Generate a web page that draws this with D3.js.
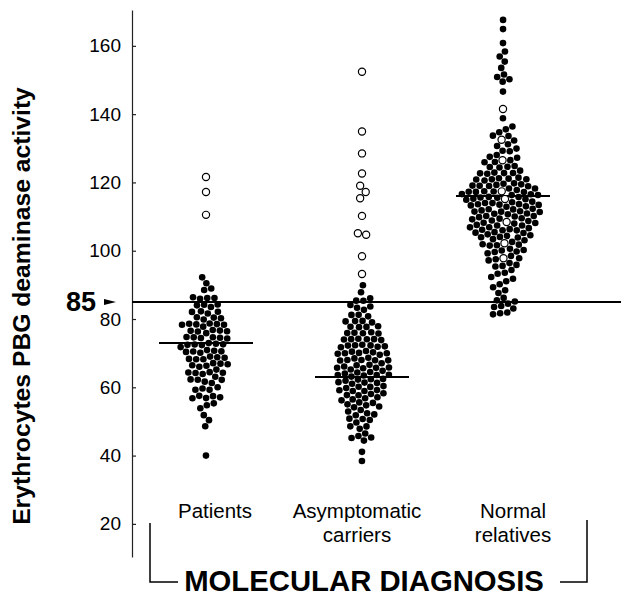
<!DOCTYPE html>
<html>
<head>
<meta charset="utf-8">
<script src="https://cdn.jsdelivr.net/npm/d3@7"></script>
<style>
  body { margin: 0; background: #fff; }
  svg { display: block; font-family: "Liberation Sans", Arial, sans-serif; }
</style>
</head>
<body>
<div id="chart"></div>
<script>
// Data
const categories = ["Patients", "Asymptomatic carriers", "Normal relatives"];
const categoryLines = [["Patients"], ["Asymptomatic", "carriers"], ["Normal", "relatives"]];
const groupMeans = [73, 63, 116];
const cutoff = 85;
const yTicks = [20, 40, 60, 80, 100, 120, 140, 160];

const patientsFilled = [
  92.1, 90.5, 89.0, 88.5,
  86.3, 86.0, 86.1, 85.8,
  83.8, 84.1, 83.6, 84.3,
  81.7, 81.9, 81.4, 82.2,
  80.0, 79.8, 80.3, 79.6,
  78.2, 78.4, 77.9, 78.6, 78.0, 78.3, 77.7,
  76.4, 76.6, 76.2, 76.8, 76.0, 76.5,
  74.7, 74.9, 74.4, 75.0, 74.6, 74.2,
  72.7, 72.4, 73.0, 72.2, 72.9, 72.5, 71.9,
  70.6, 70.2, 70.9, 70.4, 69.8, 70.7,
  68.6, 68.2, 68.9, 68.4, 67.9, 68.7, 68.1,
  67.1, 66.8, 66.4, 66.0, 66.6, 65.8,
  64.6, 64.2, 63.9, 64.4, 63.7, 64.0,
  62.7, 62.4, 61.9, 61.5, 62.2,
  60.2, 59.5, 59.8, 59.3,
  57.1, 57.4, 56.8, 57.3, 56.9,
  55.3, 55.0, 53.9, 51.8, 50.4, 48.6, 40.0
];
const patientsOpen = [121.6, 117.2, 110.5];

const carriersFilled = [
  89.8, 87.9, 86.0, 85.4, 84.9, 84.1, 83.6, 83.2, 82.8,
  81.2, 80.9, 80.5, 79.4, 79.1, 78.8, 78.5,
  77.5, 77.2, 76.9, 77.8, 75.9, 76.1, 75.6, 75.3, 76.3,
  74.2, 73.9, 73.6, 74.4, 73.8, 74.0,
  72.3, 71.9, 71.5, 72.1, 71.3, 71.7, 72.5,
  70.3, 69.9, 69.4, 70.1, 69.6, 70.5, 69.2, 69.8,
  68.3, 67.9, 67.7, 68.1, 67.5, 68.5, 67.3, 68.0,
  66.2, 65.9, 65.6, 66.4, 65.3, 66.0, 65.8, 66.6, 65.1,
  64.3, 63.9, 63.6, 64.1, 63.4, 64.5, 63.8, 64.7,
  62.3, 61.9, 61.6, 62.1, 61.3, 62.5, 61.8, 62.7,
  60.2, 59.8, 59.5, 60.4, 59.9, 60.6, 59.3,
  58.3, 57.9, 57.3, 58.1, 57.6, 57.0, 58.5,
  56.3, 55.9, 55.2, 54.8, 56.1, 55.5, 54.6,
  53.6, 53.9, 53.2, 52.0, 52.3, 51.7,
  51.0, 50.4, 50.7, 49.9,
  48.7, 48.4, 47.5, 46.6, 46.2, 45.2, 45.4, 44.5, 41.1, 38.4
];
const carriersOpen = [152.4, 134.9, 128.5, 122.6, 118.7, 117.2, 115.7, 110.2, 105.0, 104.8, 98.4, 93.2];

const normalFilled = [
  167.6, 164.9, 160.8, 158.3, 156.9, 155.4, 153.5, 151.5, 150.9, 150.3, 149.6, 146.6,
  138.8, 136.3, 135.5, 134.6, 133.8, 133.3, 132.4, 131.2, 130.8, 129.8, 129.4, 129.0,
  127.9, 127.5, 127.1, 126.2, 125.8, 125.4,
  124.6, 124.2, 123.8, 123.4,
  122.8, 122.4, 122.0, 121.6, 121.2, 122.6,
  120.8, 120.5, 120.2, 119.9, 119.6, 119.3, 120.6, 120.0, 119.4,
  118.9, 118.6, 118.3, 118.0, 117.7, 117.4, 117.1, 118.8, 118.2, 117.6, 117.3,
  116.9, 116.6, 116.3, 116.0, 115.7, 115.4, 115.1, 116.8, 116.2, 115.9, 115.5, 115.2,
  114.9, 114.6, 114.3, 114.0, 113.7, 113.4, 113.1, 114.8, 114.2, 113.8, 113.5, 113.2,
  112.9, 112.6, 112.3, 112.0, 111.7, 111.4, 111.1, 112.7, 112.2, 111.8, 111.3,
  110.9, 110.5, 110.1, 109.7, 109.3, 110.7, 110.3, 109.9, 109.5, 109.1,
  108.8, 108.4, 108.0, 107.6, 107.2, 108.6, 108.2, 107.8, 107.4,
  106.8, 106.4, 106.0, 105.6, 105.2, 106.6, 106.2, 105.4,
  104.8, 104.4, 104.0, 103.6, 103.2, 104.2, 103.8,
  102.8, 102.2, 101.6, 101.2, 102.4, 101.8,
  100.8, 100.2, 99.6, 99.2, 100.5,
  98.8, 97.9, 97.3, 98.2,
  96.6, 95.9, 95.4, 96.2,
  94.5, 93.8, 93.2,
  92.4, 91.7, 91.0,
  90.2, 89.4,
  88.4, 87.6,
  86.1,
  85.3, 84.9, 84.5, 84.0, 83.6, 83.2, 82.0, 81.7, 81.4
];
const normalOpen = [141.5, 132.5, 126.5, 117.0, 115.0, 109.0, 102.6, 98.3];

const filledByGroup = [patientsFilled, carriersFilled, normalFilled];
const openByGroup = [patientsOpen, carriersOpen, normalOpen];

// Set up dimensions
const width = 621;
const height = 596;
const axisX = 132;

const svg = d3.select("#chart")
  .append("svg")
  .attr("width", width)
  .attr("height", height);

// Scales
const y = d3.scaleLinear()
  .domain([10.3, 170.5])
  .range([557, 10]);

const xGroup = d3.scaleOrdinal()
  .domain(categories)
  .range([206, 362, 503]);

const xLabel = d3.scaleOrdinal()
  .domain(categories)
  .range([215, 357, 513]);

// Y axis, ticks pointing inward
const yAxis = d3.axisLeft(y)
  .tickValues(yTicks)
  .tickSizeInner(-4)
  .tickSizeOuter(0)
  .tickPadding(11);

const gAxis = svg.append("g")
  .attr("transform", `translate(${axisX},0)`)
  .call(yAxis);
gAxis.select(".domain").attr("stroke", "#222").attr("stroke-width", 1.2);
gAxis.selectAll(".tick line").attr("stroke", "#222").attr("stroke-width", 1.2);
gAxis.selectAll(".tick text")
  .attr("font-size", 19)
  .attr("font-family", "Liberation Sans, Arial, sans-serif")
  .attr("fill", "#000");

// Y axis title
svg.append("text")
  .attr("transform", `translate(30,${306}) rotate(-90)`)
  .attr("text-anchor", "middle")
  .attr("font-size", 24.7)
  .attr("font-weight", "bold")
  .text("Erythrocytes PBG deaminase activity");

// Cut-off line with bold label and arrow
svg.append("line")
  .attr("x1", axisX).attr("x2", width)
  .attr("y1", y(cutoff)).attr("y2", y(cutoff))
  .attr("stroke", "#000")
  .attr("stroke-width", 2);

svg.append("text")
  .attr("x", 96)
  .attr("y", y(cutoff))
  .attr("dy", "0.35em")
  .attr("text-anchor", "end")
  .attr("font-size", 27)
  .attr("font-weight", "bold")
  .text(cutoff);

svg.append("path")
  .attr("d", `M104,${y(cutoff) - 3}L116,${y(cutoff)}L104,${y(cutoff) + 3}Z`)
  .attr("fill", "#000");

// Mean lines
svg.append("g")
  .selectAll("line")
  .data(categories)
  .join("line")
  .attr("x1", d => xGroup(d) - 47)
  .attr("x2", d => xGroup(d) + 47)
  .attr("y1", (d, i) => y(groupMeans[i]))
  .attr("y2", (d, i) => y(groupMeans[i]))
  .attr("stroke", "#000")
  .attr("stroke-width", 2);

// Build nodes and lay out as a beeswarm
const r = 3.3;
const nodes = [];
categories.forEach((cat, gi) => {
  filledByGroup[gi].forEach(v => nodes.push({ cat, v, open: false }));
  openByGroup[gi].forEach(v => nodes.push({ cat, v, open: true }));
});
nodes.forEach((d, i) => {
  d.x = xGroup(d.cat) + (d.open ? 0 : ((i * 37) % 21 - 10) * 0.5);
  d.y = y(d.v);
});

const sim = d3.forceSimulation(nodes)
  .force("x", d3.forceX(d => xGroup(d.cat)).strength(d => d.open ? 0.5 : 0.06))
  .force("y", d3.forceY(d => y(d.v)).strength(0.9))
  .force("collide", d3.forceCollide(d => d.open ? 4.2 : 3.6).iterations(2))
  .stop();
for (let i = 0; i < 400; i++) sim.tick();

svg.append("g")
  .selectAll("circle")
  .data(nodes.filter(d => !d.open))
  .join("circle")
  .attr("cx", d => d.x)
  .attr("cy", d => d.y)
  .attr("r", r)
  .attr("fill", "#000");

svg.append("g")
  .selectAll("circle")
  .data(nodes.filter(d => d.open))
  .join("circle")
  .attr("cx", d => d.x)
  .attr("cy", d => d.y)
  .attr("r", 3.6)
  .attr("fill", "#fff")
  .attr("stroke", "#000")
  .attr("stroke-width", 1.2);

// Category labels
categories.forEach((cat, i) => {
  const t = svg.append("text")
    .attr("x", xLabel(cat))
    .attr("y", 518)
    .attr("text-anchor", "middle")
    .attr("font-size", 20.5);
  categoryLines[i].forEach((line, j) => {
    t.append("tspan")
      .attr("x", xLabel(cat))
      .attr("dy", j === 0 ? 0 : 24)
      .text(line);
  });
});

// Bracket and title
svg.append("path")
  .attr("d", "M150,523V582H178M560,582H587V520")
  .attr("fill", "none")
  .attr("stroke", "#000")
  .attr("stroke-width", 1.5);

svg.append("text")
  .attr("x", 364)
  .attr("y", 591)
  .attr("text-anchor", "middle")
  .attr("font-size", 29.3)
  .attr("font-weight", "bold")
  .text("MOLECULAR DIAGNOSIS");
</script>
</body>
</html>
